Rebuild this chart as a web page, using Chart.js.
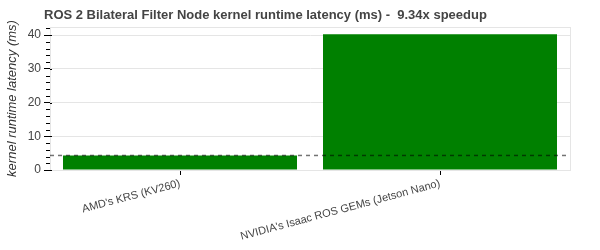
<!DOCTYPE html>
<html>
<head>
<meta charset="utf-8">
<script src="https://cdn.jsdelivr.net/npm/chart.js@4"></script>
<style>
  html, body { margin: 0; padding: 0; background: #fff; }
  #wrap { width: 600px; height: 250px; }
</style>
</head>
<body>
<div id="wrap"><canvas id="grafico" width="600" height="250"></canvas></div>
<script>
const categorias = ["AMD's KRS (KV260)", "NVIDIA's Isaac ROS GEMs (Jetson Nano)"];
const latencias = [4.31, 40.26];
const yTicks = [0, 10, 20, 30, 40];
const titulo = "ROS 2 Bilateral Filter Node kernel runtime latency (ms) -  9.34x speedup";

// linea discontinua en el valor de referencia + marco + ticks menores
const extras = {
    id: "extras",
    beforeDatasetsDraw(chart) {
        const { ctx, chartArea: a } = chart;
        ctx.save();
        ctx.strokeStyle = "#e5e5e5";
        ctx.lineWidth = 1;
        ctx.strokeRect(a.left + 0.5, a.top + 0.5, a.right - a.left, a.bottom - a.top);
        ctx.restore();
    },
    afterDatasetsDraw(chart) {
        const { ctx, chartArea: a, scales } = chart;
        const y = scales.y;
        ctx.save();
        // ticks menores
        ctx.strokeStyle = "#000";
        ctx.lineWidth = 1;
        for (let v = 0; v <= y.max; v += 2) {
            if (v % 10 === 0) continue;
            const py = Math.round(y.getPixelForValue(v)) + 0.5;
            ctx.beginPath();
            ctx.moveTo(a.left - 4, py);
            ctx.lineTo(a.left, py);
            ctx.stroke();
        }
        // ticks mayores hacia dentro
        yTicks.forEach(v => {
            const py = Math.round(y.getPixelForValue(v)) + 0.5;
            ctx.beginPath();
            ctx.moveTo(a.left, py);
            ctx.lineTo(a.left + 2, py);
            ctx.stroke();
        });
        // linea discontinua
        const py = y.getPixelForValue(latencias[0]);
        ctx.strokeStyle = "rgba(0,0,0,0.55)";
        ctx.lineWidth = 1.5;
        ctx.setLineDash([4, 4]);
        ctx.beginPath();
        ctx.moveTo(a.left, py);
        ctx.lineTo(a.right, py);
        ctx.stroke();
        ctx.setLineDash([]);
        // titulo
        ctx.fillStyle = "#444";
        ctx.font = "bold 13px 'Liberation Sans', Arial, sans-serif";
        ctx.textBaseline = "middle";
        ctx.textAlign = "left";
        ctx.fillText(titulo, 44, 15);
        ctx.restore();
    }
};

new Chart(document.getElementById("grafico"), {
    type: "bar",
    data: {
        labels: categorias,
        datasets: [{
            data: latencias,
            backgroundColor: "#008000",
            borderWidth: 0,
            barPercentage: 0.9,
            categoryPercentage: 1.0
        }]
    },
    options: {
        responsive: false,
        animation: false,
        layout: { padding: { top: 27, right: 30, left: 0, bottom: 0 } },
        plugins: {
            legend: { display: false },
            title: { display: false },
            tooltip: { enabled: false }
        },
        scales: {
            x: {
                offset: true,
                border: { color: "#000", width: 1 },
                grid: { display: true, drawOnChartArea: false, offset: false, tickLength: 5, tickColor: "#000" },
                ticks: {
                    color: "#444",
                    font: { family: "'Liberation Sans', Arial, sans-serif", size: 11 },
                    minRotation: 15,
                    maxRotation: 15,
                    padding: 2
                },
                afterFit(scale) { scale.height = 80; }
            },
            y: {
                min: 0,
                max: 42.4,
                border: { color: "#000", width: 1 },
                grid: { color: "#e5e5e5", tickLength: 6, tickColor: "#000" },
                afterBuildTicks(scale) { scale.ticks = yTicks.map(v => ({ value: v })); },
                ticks: {
                    color: "#444",
                    font: { family: "'Liberation Sans', Arial, sans-serif", size: 12 },
                    padding: 3
                },
                title: {
                    display: true,
                    text: "kernel runtime latency (ms)",
                    color: "#333",
                    font: { family: "'Liberation Sans', Arial, sans-serif", size: 13, style: "italic" },
                    padding: { top: 5, bottom: 0 }
                },
                afterFit(scale) { scale.width = 50; }
            }
        }
    },
    plugins: [extras]
});
</script>
</body>
</html>
